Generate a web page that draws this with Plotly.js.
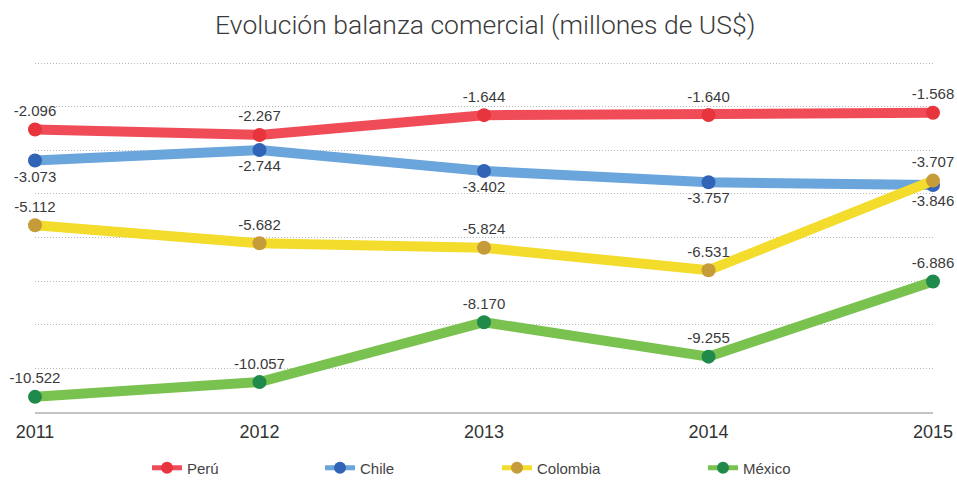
<!DOCTYPE html>
<html>
<head>
<meta charset="utf-8">
<script src="https://cdn.plot.ly/plotly-3.0.1.min.js"></script>
<style>html,body{margin:0;padding:0;background:#fff;}#chart{width:957px;height:481px;}</style>
</head>
<body>
<div id="chart"></div>
<script>
const years = ["2011", "2012", "2013", "2014", "2015"];
const peru = [-2096, -2267, -1644, -1640, -1568];
const chile = [-3073, -2744, -3402, -3757, -3846];
const colombia = [-5112, -5682, -5824, -6531, -3707];
const mexico = [-10522, -10057, -8170, -9255, -6886];
const seriesNames = ["Perú", "Chile", "Colombia", "México"];
const gridVals = [0, -1375, -2750, -4125, -5500, -6875, -8250, -9625, -11000];

function fmt(v) {
  const s = Math.abs(v).toString().replace(/\B(?=(\d{3})+(?!\d))/g, ".");
  return (v < 0 ? "-" : "") + s;
}

const styles = [
  {line: "#f04c58", marker: "#e8343c", pos: "top center", legend: "legend", lx: 147},
  {line: "#6aa5dc", marker: "#3164b6", pos: "bottom center", legend: "legend2", lx: 320},
  {line: "#f3dc2c", marker: "#c69b3a", pos: "top center", legend: "legend3", lx: 497},
  {line: "#7ac250", marker: "#1f8a4c", pos: "top center", legend: "legend4", lx: 703}
];
const data = [peru, chile, colombia, mexico];

const traces = data.map((vals, i) => ({
  type: "scatter",
  mode: "lines+markers+text",
  name: seriesNames[i],
  legend: styles[i].legend,
  x: years,
  y: vals,
  text: vals.map(fmt),
  textposition: styles[i].pos,
  textfont: {family: "Liberation Sans, Arial, sans-serif", size: 15, color: "#3a3a3a"},
  line: {color: styles[i].line, width: 10},
  marker: {color: styles[i].marker, size: 14},
  cliponaxis: false,
  hoverinfo: "x+y"
}));

const layout = {
  width: 957,
  height: 481,
  paper_bgcolor: "#ffffff",
  plot_bgcolor: "#ffffff",
  margin: {l: 35, r: 24, t: 62, b: 69},
  title: {
    text: "Evolución balanza comercial (millones de US$)",
    font: {family: "Roboto, Liberation Sans, sans-serif", size: 26.5, color: "#3a3a3a", weight: 300},
    x: 0.507, xanchor: "center", y: 0.948, yanchor: "middle"
  },
  xaxis: {
    type: "category",
    range: [0, 4],
    showgrid: false,
    zeroline: false,
    showline: true,
    linecolor: "#c4c4c4",
    linewidth: 1.5,
    ticks: "",
    ticklabelstandoff: 3,
    tickfont: {family: "Liberation Sans, Arial, sans-serif", size: 18, color: "#333333"}
  },
  yaxis: {
    range: [-11000, 32],
    tickmode: "array",
    tickvals: gridVals,
    showticklabels: false,
    showgrid: true,
    gridcolor: "#b8b8b8",
    griddash: "1px,2px",
    gridwidth: 1,
    zeroline: false,
    ticks: ""
  },
  showlegend: true
};

styles.forEach(s => {
  layout[s.legend] = {
    orientation: "h",
    xref: "container", yref: "container",
    x: s.lx / 957, xanchor: "left",
    y: 0.027, yanchor: "middle",
    itemsizing: "constant",
    itemwidth: 30,
    font: {family: "Liberation Sans, Arial, sans-serif", size: 15, color: "#444444"},
    bgcolor: "rgba(0,0,0,0)"
  };
});

Plotly.newPlot("chart", traces, layout, {displayModeBar: false, staticPlot: true});
</script>
</body>
</html>
